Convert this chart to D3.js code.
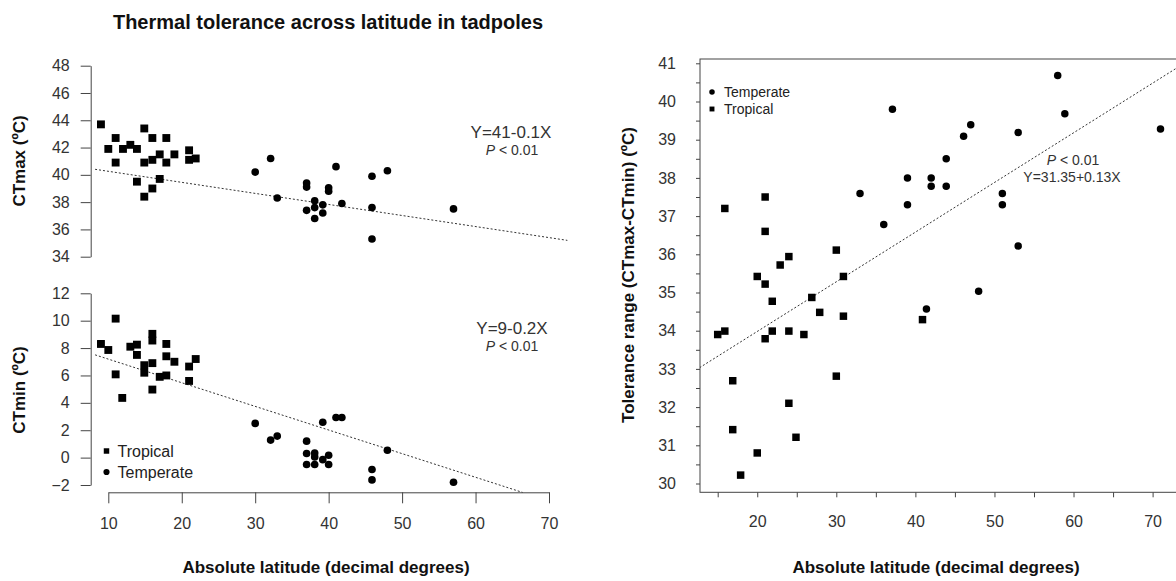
<!DOCTYPE html>
<html>
  <head>
    <title>Thermal tolerance across latitude in tadpoles</title>
    <script src="https://d3js.org/d3.v7.min.js"></script>
    <style>
      body { margin: 0; background: #fff; }
      svg { font-family: "Liberation Sans", Arial, sans-serif; }
      .axis text { font-size: 16px; fill: #333; }
      .axis path, .axis line { stroke: #444; }
      .title { font-size: 20px; font-weight: bold; fill: #111; }
      .axis-label { font-size: 17px; font-weight: bold; fill: #111; }
      .note { fill: #333; }
      .fit { fill: none; stroke: #333; stroke-dasharray: 2,2; }
    </style>
  </head>
  <body>
    <svg width="1176" height="581"></svg>
    <script>
      // top-left: CTmax vs latitude
      const ctmaxTropLat = [9, 10, 11, 11, 12, 13, 13.9, 13.9, 14.9, 14.9, 14.9, 16, 16, 16, 17, 17, 17.9, 17.9, 19, 21, 21, 21.9];
      const ctmaxTrop    = [43.7, 41.9, 42.7, 40.9, 41.9, 42.2, 41.9, 39.5, 43.4, 40.9, 38.4, 42.7, 41.1, 39.0, 41.5, 39.7, 42.7, 40.9, 41.5, 41.8, 41.1, 41.2];
      const ctmaxTempLat = [30, 32.1, 33, 37, 37, 37, 38.1, 38.1, 38.1, 39.2, 39.2, 40, 40, 41, 41.8, 45.9, 45.9, 45.9, 48, 57];
      const ctmaxTemp    = [40.2, 41.2, 38.3, 39.4, 39.1, 37.4, 38.1, 37.6, 36.8, 37.8, 37.2, 39.05, 38.8, 40.6, 37.9, 39.9, 37.6, 35.3, 40.3, 37.5];

      // bottom-left: CTmin vs latitude
      const ctminTropLat = [9, 10, 11, 11, 11.9, 13, 13.9, 13.9, 14.9, 14.9, 16, 16, 16, 16, 17, 17.9, 17.9, 17.9, 19, 21, 21, 21.9];
      const ctminTrop    = [8.3, 7.86, 10.15, 6.08, 4.36, 8.1, 8.25, 7.5, 6.75, 6.2, 9.04, 8.55, 6.9, 4.97, 5.9, 8.3, 7.4, 6.0, 7.0, 6.65, 5.6, 7.2];
      const ctminTempLat = [30, 32.1, 33, 37, 37, 37, 38.1, 38.1, 38.1, 39.2, 39.2, 40, 40, 41, 41.8, 45.9, 45.9, 48, 57];
      const ctminTemp    = [2.5, 1.28, 1.57, 1.2, 0.3, -0.5, 0.34, 0.05, -0.5, 2.58, -0.15, 0.17, -0.5, 2.93, 2.93, -0.87, -1.63, 0.54, -1.8];

      // right: tolerance range vs latitude
      const rangeTempLat = [58, 37.1, 58.9, 71, 47, 46.1, 53, 43.9, 39, 42, 42, 43.9, 33, 39, 51, 51, 36, 53, 48, 41.4];
      const rangeTemp    = [40.68, 39.8, 39.68, 39.28, 39.39, 39.09, 39.19, 38.5, 38.0, 38.0, 37.78, 37.78, 37.59, 37.3, 37.59, 37.3, 36.78, 36.22, 35.03, 34.57];
      const rangeTropLat = [15.9, 21, 21, 30, 24, 22.9, 20, 21, 30.9, 21.9, 26.9, 27.9, 30.9, 15, 15.9, 21, 21.9, 24, 25.9, 40.9, 16.9, 30, 24, 16.9, 24.9, 20, 17.9];
      const rangeTrop    = [37.2, 37.5, 36.6, 36.11, 35.94, 35.72, 35.42, 35.22, 35.42, 34.77, 34.87, 34.48, 34.38, 33.9, 33.99, 33.79, 33.99, 33.99, 33.9, 34.29, 32.69, 32.81, 32.1, 31.41, 31.21, 30.8, 30.22];

      // fitted lines: [intercept, slope, x from, x to]
      const ctmaxFit = [41.07, -0.081, 8.2, 72.5];
      const ctminFit = [8.92, -0.1726, 8.2, 66.4];
      const rangeFit = [31.38, 0.13, 12.7, 80];

      const latTicksLeft = [10, 20, 30, 40, 50, 60, 70];
      const ctmaxTicks = [34, 36, 38, 40, 42, 44, 46, 48];
      const ctminTicks = [-2, 0, 2, 4, 6, 8, 10, 12];
      const rangeTicks = d3.range(30, 42);
      const rangeMinor = d3.range(30.5, 41, 1);
      const latTicksRight = d3.range(15, 80, 5);

      const svg = d3.select("svg");

      svg.append("text")
        .attr("class", "title")
        .attr("x", 328).attr("y", 29)
        .attr("text-anchor", "middle")
        .text("Thermal tolerance across latitude in tadpoles");

      // ---- left panels ----
      const xL = d3.scaleLinear().domain([10, 70]).range([108.3, 549]);
      const yMax = d3.scaleLinear().domain([34, 48]).range([256.7, 65.7]);
      const yMin = d3.scaleLinear().domain([-2, 12]).range([485, 293.3]);
      const axisXL = 90.7;

      function leftYAxis(scale, ticks) {
        svg.append("g")
          .attr("class", "axis")
          .attr("transform", `translate(${axisXL},0)`)
          .call(d3.axisLeft(scale).tickValues(ticks).tickSize(10).tickSizeOuter(0).tickPadding(11));
      }
      leftYAxis(yMax, ctmaxTicks);
      leftYAxis(yMin, ctminTicks);

      svg.append("g")
        .attr("class", "axis")
        .attr("transform", "translate(0,492.3)")
        .call(d3.axisBottom(xL).tickValues(latTicksLeft).tickSize(11).tickSizeOuter(0).tickPadding(14));

      const sq = d3.symbol().type(d3.symbolSquare);
      const dot = d3.symbol().type(d3.symbolCircle);

      function drawPoints(xs, ys, xScale, yScale, sym, size) {
        svg.append("g").selectAll("path")
          .data(xs.map((x, i) => [x, ys[i]]))
          .join("path")
            .attr("transform", d => `translate(${xScale(d[0])},${yScale(d[1])})`)
            .attr("d", sym.size(size))
            .attr("fill", "#000");
      }

      function drawFit(fit, xScale, yScale, clip) {
        const [a, b, x0, x1] = fit;
        const line = d3.line().x(d => xScale(d)).y(d => yScale(a + b * d));
        const p = svg.append("path")
          .attr("class", "fit")
          .attr("d", line([x0, x1]));
        if (clip) p.attr("clip-path", clip);
      }

      drawFit(ctmaxFit, xL, yMax);
      drawFit(ctminFit, xL, yMin);
      drawPoints(ctmaxTropLat, ctmaxTrop, xL, yMax, sq, 62);
      drawPoints(ctmaxTempLat, ctmaxTemp, xL, yMax, dot, 46);
      drawPoints(ctminTropLat, ctminTrop, xL, yMin, sq, 62);
      drawPoints(ctminTempLat, ctminTemp, xL, yMin, dot, 46);

      function note(x, y, eq, size) {
        svg.append("text").attr("class", "note")
          .attr("x", x).attr("y", y).attr("text-anchor", "middle")
          .attr("font-size", size).text(eq);
      }
      function pnote(x, y, size) {
        const t = svg.append("text").attr("class", "note")
          .attr("x", x).attr("y", y).attr("text-anchor", "middle")
          .attr("font-size", size);
        t.append("tspan").attr("font-style", "italic").text("P");
        t.append("tspan").text(" < 0.01");
      }
      note(511, 138, "Y=41-0.1X", 17);
      pnote(512, 155, 14);
      note(512, 334, "Y=9-0.2X", 17);
      pnote(512, 351, 14);

      svg.append("text").attr("class", "axis-label")
        .attr("transform", "translate(25,161) rotate(-90)")
        .attr("text-anchor", "middle").text("CTmax (ºC)");
      svg.append("text").attr("class", "axis-label")
        .attr("transform", "translate(25,390) rotate(-90)")
        .attr("text-anchor", "middle").text("CTmin (ºC)");
      svg.append("text").attr("class", "axis-label")
        .attr("x", 326).attr("y", 573).attr("text-anchor", "middle")
        .text("Absolute latitude (decimal degrees)");

      // legend (bottom-left)
      const legL = svg.append("g").attr("transform", "translate(106.5,451)");
      legL.append("path").attr("d", sq.size(30)()).attr("fill", "#000");
      legL.append("path").attr("transform", "translate(0,21)").attr("d", dot.size(30)()).attr("fill", "#000");
      legL.append("text").attr("x", 11).attr("y", 6).attr("font-size", 16).attr("fill", "#222").text("Tropical");
      legL.append("text").attr("x", 11).attr("y", 27).attr("font-size", 16).attr("fill", "#222").text("Temperate");

      // ---- right panel ----
      const xR = d3.scaleLinear().domain([15, 70]).range([717.7, 1152.6]);
      const yR = d3.scaleLinear().domain([30, 41]).range([483.5, 63.3]);
      const box = { left: 700, top: 59, right: 1182, bottom: 492.3 };

      svg.append("clipPath").attr("id", "rclip")
        .append("rect")
          .attr("x", box.left).attr("y", box.top)
          .attr("width", box.right - box.left).attr("height", box.bottom - box.top);

      svg.append("g")
        .attr("class", "axis")
        .attr("transform", `translate(${box.left},0)`)
        .call(d3.axisLeft(yR).tickValues(rangeTicks).tickSize(4).tickPadding(20))
        .call(g => g.select(".domain").remove());
      svg.append("g")
        .attr("class", "axis")
        .attr("transform", `translate(${box.left},0)`)
        .call(d3.axisLeft(yR).tickValues(rangeMinor).tickSize(4).tickFormat(""))
        .call(g => g.select(".domain").remove());
      svg.append("g")
        .attr("class", "axis")
        .attr("transform", `translate(0,${box.bottom})`)
        .call(d3.axisBottom(xR).tickValues(latTicksRight).tickSize(5).tickPadding(18)
          .tickFormat(d => d % 10 === 0 ? d : ""))
        .call(g => g.select(".domain").remove());

      svg.append("rect")
        .attr("x", box.left).attr("y", box.top)
        .attr("width", box.right - box.left).attr("height", box.bottom - box.top)
        .attr("fill", "none").attr("stroke", "#444");

      drawFit(rangeFit, xR, yR, "url(#rclip)");
      drawPoints(rangeTropLat, rangeTrop, xR, yR, sq, 56);
      drawPoints(rangeTempLat, rangeTemp, xR, yR, dot, 44);

      pnote(1073, 165, 14);
      note(1072, 182, "Y=31.35+0.13X", 14);

      const legR = svg.append("g").attr("transform", "translate(712,92)");
      legR.append("path").attr("d", dot.size(24)()).attr("fill", "#000");
      legR.append("path").attr("transform", "translate(0,17)").attr("d", sq.size(24)()).attr("fill", "#000");
      legR.append("text").attr("x", 12).attr("y", 5).attr("font-size", 14).attr("fill", "#222").text("Temperate");
      legR.append("text").attr("x", 12).attr("y", 22).attr("font-size", 14).attr("fill", "#222").text("Tropical");

      svg.append("text").attr("class", "axis-label")
        .attr("transform", "translate(634,275) rotate(-90)")
        .attr("text-anchor", "middle").text("Tolerance range (CTmax-CTmin) (ºC)");
      svg.append("text").attr("class", "axis-label")
        .attr("x", 936).attr("y", 573).attr("text-anchor", "middle")
        .text("Absolute latitude (decimal degrees)");
    </script>
  </body>
</html>
